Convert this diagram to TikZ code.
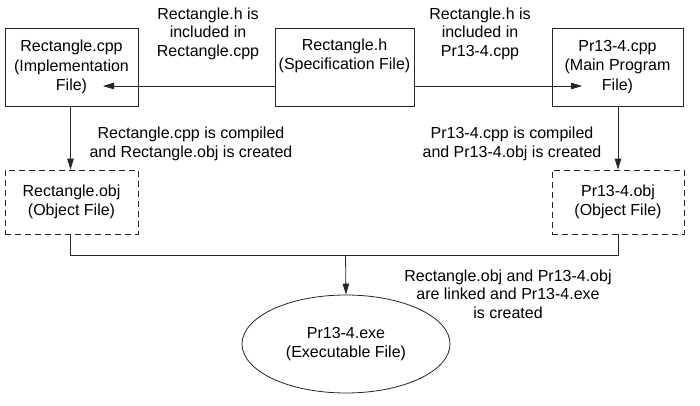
\documentclass[tikz,border=0pt]{standalone}
\usepackage{fontspec}
\setmainfont{Liberation Sans}
\usetikzlibrary{arrows.meta,shapes.geometric}
\begin{document}
\begin{tikzpicture}[x=1pt,y=-1pt,
  font=\fontsize{16}{19.5}\selectfont,
  filebox/.style={draw=black!85, line width=0.8pt, rectangle, align=center, inner sep=0pt,
    minimum height=78pt},
  objbox/.style={draw=black!85, line width=0.8pt, rectangle, align=center, inner sep=0pt,
    minimum height=64pt, minimum width=133pt, dash pattern=on 6pt off 4pt},
  exebox/.style={draw=black!85, line width=0.8pt, ellipse, align=center, inner sep=0pt,
    minimum width=208pt, minimum height=98pt},
  lbl/.style={align=center, inner sep=0pt, font=\fontsize{16}{18.5}\selectfont},
  arr/.style={draw=black!85, line width=0.8pt, -{Triangle[length=11pt,width=6.5pt]}},
  ln/.style={draw=black!85, line width=0.8pt}
]
\useasboundingbox (0,0) rectangle (700,406);

\node[filebox, minimum width=133pt] (cpp) at (71.5,67) {Rectangle.cpp\\(Implementation\\File)};
\node[filebox, minimum width=139pt] (hdr) at (344.5,67) {Rectangle.h\\(Specification File)\\\strut};
\node[filebox, minimum width=131pt] (main) at (617.5,67) {Pr13-4.cpp\\(Main Program\\File)};

\node[objbox] (obj1) at (71.5,202) {Rectangle.obj\\(Object File)};
\node[objbox, minimum width=132pt] (obj2) at (618,202) {Pr13-4.obj\\(Object File)};

\node[exebox] (exe) at (346,344) {Pr13-4.exe\\(Executable File)};

\node[lbl] (l1) at (208,33.5) {Rectangle.h is\\included in\\Rectangle.cpp};
\node[lbl] (l2) at (480,33.5) {Rectangle.h is\\included in\\Pr13-4.cpp};
\node[lbl] (l3) at (191,144) {Rectangle.cpp is compiled\\and Rectangle.obj is created};
\node[lbl] (l4) at (512,144) {Pr13-4.cpp is compiled\\and Pr13-4.obj is created};
\node[lbl] (l5) at (508,294) {Rectangle.obj and Pr13-4.obj\\are linked and Pr13-4.exe\\is created};

\coordinate (cppin) at (103,86);
\coordinate (mainin) at (582,86);
\coordinate (jl) at (70.5,255);
\coordinate (jr) at (618,255);
\coordinate (jm) at (345.5,255);

\draw[arr] ([yshift=-19pt]hdr.west) -- (cppin);
\draw[arr] ([yshift=-19pt]hdr.east) -- (mainin);
\draw[arr] (cpp.south -| jl) -- (obj1.north -| jl);
\draw[arr] (main.south -| jr) -- (obj2.north -| jr);
\draw[ln] (obj1.south -| jl) -- (jl) -- (jr) -- (obj2.south -| jr);
\draw[arr] (jm) -- (exe.north);
\end{tikzpicture}
\end{document}
